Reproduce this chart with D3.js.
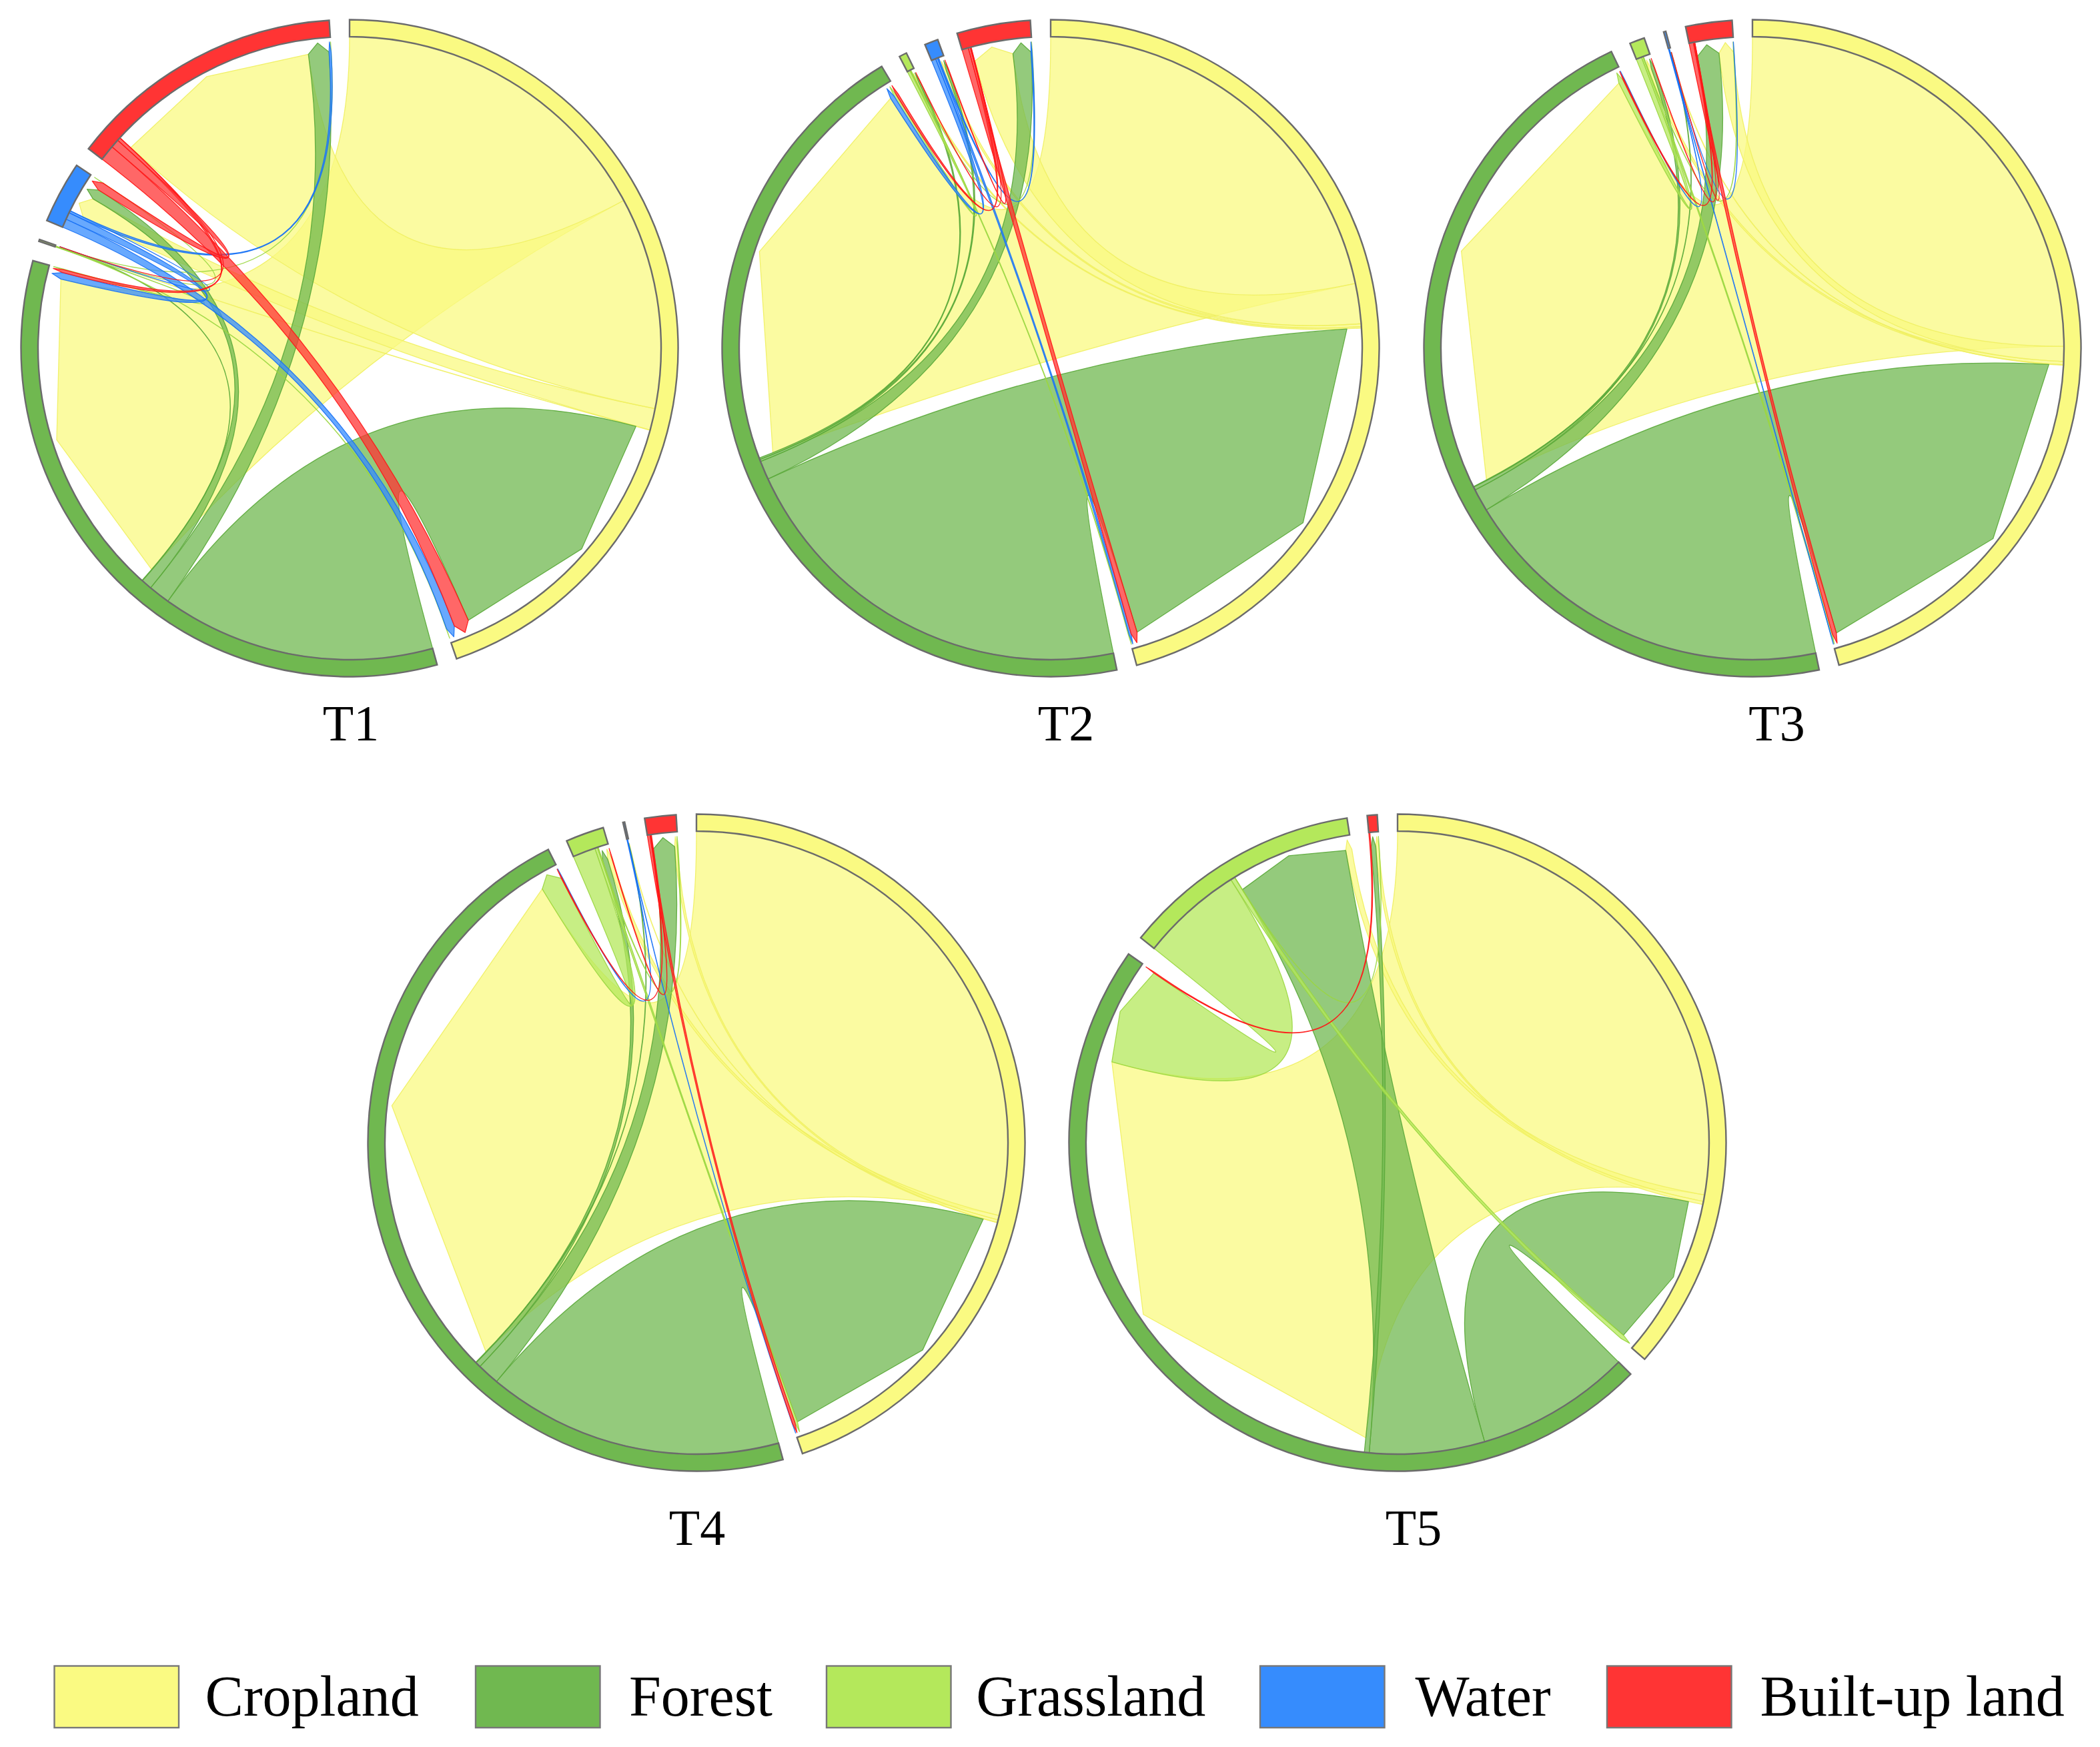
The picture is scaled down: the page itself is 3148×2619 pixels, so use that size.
<!DOCTYPE html>
<html>
<head>
<meta charset="utf-8">
<script src="https://cdn.jsdelivr.net/npm/d3@7"></script>
<style>
html, body { margin: 0; padding: 0; background: #ffffff; }
svg { display: block; }
</style>
</head>
<body>
<svg id="chart" width="3148" height="2619"></svg>
<script>
// ---------------- DATA ----------------
const categories = ["Cropland", "Forest", "Grassland", "Water", "Built-up land"];
const periods = ["T1", "T2", "T3", "T4", "T5"];
const sectorColors = ["#FAFA82", "#70B850", "#B4E85B", "#368CFD", "#FF3434"];
const linkBorderColors = ["#F0F060", "#5AA838", "#9AD640", "#1670F5", "#FF1515"];

// transition flows: rows = from, columns = to (Cropland, Forest, Grassland, Water, Built-up land)
const flowsT1 = [
  [0,    61.5, 0.06, 4.0,  39.4],
  [51.0, 0,    0.08, 2.0,  4.0 ],
  [0.05, 0.08, 0,    0.01, 0.01],
  [1.6,  1.3,  0.01, 0,    0.4 ],
  [2.9,  0.6,  0.02, 1.6,  0   ]
];
const flowsT2 = [
  [0,    78.0, 0.3,  0.5,  7.5 ],
  [76.8, 0,    0.3,  0.4,  3.5 ],
  [0.15, 0.5,  0,    0,    0.05],
  [0.4,  0.8,  0,    0,    0.2 ],
  [1.2,  0.4,  0.05, 0.1,  0   ]
];
const flowsT3 = [
  [0,    89.6, 0.6,  0.1,  2.8 ],
  [70.4, 0,    0.6,  0.1,  4.2 ],
  [0.3,  1.0,  0,    0,    0.1 ],
  [0.05, 0.1,  0,    0,    0.02],
  [0.8,  0.2,  0.05, 0.02, 0   ]
];
const flowsT4 = [
  [0,    103.0, 0.8, 0.05, 0.5 ],
  [54.9, 0,     1.0, 0.1,  4.1 ],
  [0.5,  4.2,   0,   0,    0.15],
  [0.05, 0.1,   0,   0,    0   ],
  [0.5,  0.15,  0.1, 0,    0   ]
];
const flowsT5 = [
  [0,    99.4, 1.2,  0, 0.6 ],
  [28.9, 0,    21.4, 0, 0.9 ],
  [0.8,  19.0, 0,    0, 0.05],
  [0,    0,    0,    0, 0   ],
  [0,    0.2,  0,    0, 0   ]
];
const flowsByPeriod = [flowsT1, flowsT2, flowsT3, flowsT4, flowsT5];

// ---------------- LAYOUT ----------------
const gapDeg = 3.55;
const rTrackIn = 467, rTrackOut = 492.5;
const rSource = 467;              // outgoing root sits on the track
const rEnd = 445, rEndMid = 460;  // incoming root is lower
const centers = [[524, 522], [1575, 522], [2627, 522], [1044, 1713], [2095, 1713]];
const labelPos = [[526, 1109.5], [1598, 1109.5], [2663.5, 1109.5], [1045, 2316], [2119, 2316]];
const legendBoxX = [81.5, 713, 1239, 1889, 2409];
const legendTextX = [307.6, 943, 1463.3, 2121.5, 2638.6];
const fontFam = "'Liberation Serif', 'Times New Roman', Times, serif";

function layoutChord(m) {
  const n = m.length;
  const rowSum = m.map(r => d3.sum(r));
  const colSum = d3.range(n).map(j => d3.sum(m, r => r[j]));
  const tot = rowSum.map((v, i) => v + colSum[i]);
  const active = d3.range(n).filter(i => tot[i] > 0);
  const grand = d3.sum(active, i => tot[i]);
  const angle = d3.scaleLinear().domain([0, grand]).range([0, 360 - active.length * gapDeg]);
  const sectors = [];
  const ends = {};
  let cum = 0;
  active.forEach((i, k) => {
    const off = k * gapDeg;
    sectors.push({ index: i, start: angle(cum) + off, end: angle(cum + tot[i]) + off });
    let pos = cum;
    const outs = d3.range(n).filter(j => j !== i && m[i][j] > 0).sort((a, b) => m[i][b] - m[i][a]);
    outs.forEach(j => {
      const key = i + "-" + j;
      ends[key] = ends[key] || {};
      ends[key].src = [angle(pos) + off, angle(pos + m[i][j]) + off];
      pos += m[i][j];
    });
    const ins = d3.range(n).filter(j => j !== i && m[j][i] > 0).sort((a, b) => m[b][i] - m[a][i]);
    ins.forEach(j => {
      const key = j + "-" + i;
      ends[key] = ends[key] || {};
      ends[key].tgt = [angle(pos) + off, angle(pos + m[j][i]) + off];
      pos += m[j][i];
    });
    cum += tot[i];
  });
  const links = [];
  for (let i = 0; i < n; i++) for (let j = 0; j < n; j++) {
    if (i !== j && m[i][j] > 0) links.push({ source: i, target: j, value: m[i][j], e: ends[i + "-" + j] });
  }
  return { sectors, links };
}

function pt(deg, r) {
  const a = deg * Math.PI / 180;
  return [r * Math.sin(a), -r * Math.cos(a)];
}
const toRad = deg => (deg - 90) * Math.PI / 180;

function ribbonPath(s, t) {
  const [a0, a1] = s, [b0, b1] = t;
  const p = d3.path();
  const A0 = pt(a0, rSource);
  const B0 = pt(b0, rEnd), Bm = pt((b0 + b1) / 2, rEndMid), B1 = pt(b1, rEnd);
  p.moveTo(A0[0], A0[1]);
  p.arc(0, 0, rSource, toRad(a0), toRad(a1), false);
  p.quadraticCurveTo(0, 0, B0[0], B0[1]);
  p.lineTo(Bm[0], Bm[1]);
  p.lineTo(B1[0], B1[1]);
  p.quadraticCurveTo(0, 0, A0[0], A0[1]);
  p.closePath();
  return p.toString();
}

// ---------------- DRAW ----------------
const svg = d3.select("#chart");
svg.append("rect").attr("width", 3148).attr("height", 2619).attr("fill", "#ffffff");

const trackArc = d3.arc().innerRadius(rTrackIn).outerRadius(rTrackOut);

flowsByPeriod.forEach((m, ci) => {
  const { sectors, links } = layoutChord(m);
  const g = svg.append("g").attr("transform", `translate(${centers[ci][0]},${centers[ci][1]})`);

  g.append("g").selectAll("path")
    .data(links)
    .join("path")
    .attr("d", d => ribbonPath(d.e.src, d.e.tgt))
    .attr("fill", d => sectorColors[d.source])
    .attr("fill-opacity", 0.75)
    .attr("stroke", d => linkBorderColors[d.source])
    .attr("stroke-width", 1.3)
    .attr("stroke-opacity", 0.9)
    .attr("stroke-linejoin", "round");

  g.append("g").selectAll("path")
    .data(sectors)
    .join("path")
    .attr("d", d => trackArc({ startAngle: d.start * Math.PI / 180, endAngle: d.end * Math.PI / 180 }))
    .attr("fill", d => sectorColors[d.index])
    .attr("stroke", "#6B6B6B")
    .attr("stroke-width", 2.4);

  svg.append("text")
    .attr("x", labelPos[ci][0])
    .attr("y", labelPos[ci][1])
    .attr("text-anchor", "middle")
    .attr("font-family", fontFam)
    .attr("font-size", 76)
    .attr("fill", "#000")
    .text(periods[ci]);
});

// legend
const legend = svg.append("g");
categories.forEach((c, i) => {
  legend.append("rect")
    .attr("x", legendBoxX[i]).attr("y", 2497.5)
    .attr("width", 186.5).attr("height", 92.5)
    .attr("fill", sectorColors[i])
    .attr("stroke", "#777777").attr("stroke-width", 2.4);
  legend.append("text")
    .attr("x", legendTextX[i]).attr("y", 2572)
    .attr("font-family", fontFam)
    .attr("font-size", 86)
    .attr("fill", "#000")
    .text(c);
});
</script>
</body>
</html>
